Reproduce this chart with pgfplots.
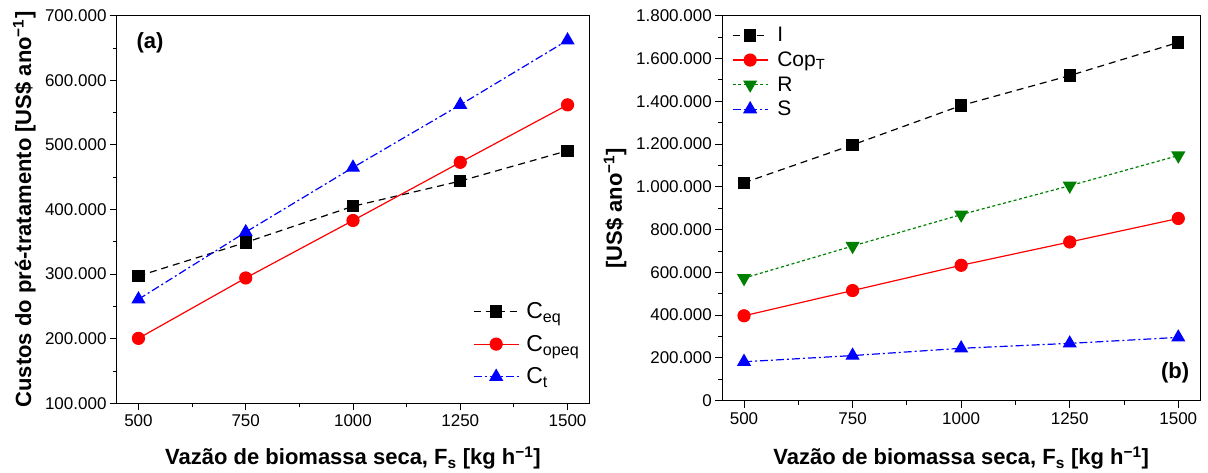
\documentclass[border=0pt]{standalone}
\usepackage{fontspec}
\setmainfont{Liberation Sans}
\usepackage{pgfplots}
\pgfplotsset{compat=1.18}
\definecolor{cgreen}{RGB}{0,128,0}
\definecolor{cred}{RGB}{255,0,0}
\definecolor{cblue}{RGB}{0,0,255}
\newcommand{\mnus}{{\char"2212}}
\pgfplotsset{
  common/.style={
    scale only axis,
    /pgf/number format/assume math mode=true,
    tick align=outside, tick pos=left,
    major tick length=7pt, minor tick length=4pt,
    every tick/.style={black, line width=0.9pt},
    axis line style={line width=1pt},
    xmin=450, xmax=1550,
    xtick={500,750,1000,1250,1500},
    minor x tick num=1, minor y tick num=1,
    scaled y ticks=false,
    xticklabel style={font=\fontsize{17}{20}\selectfont, /pgf/number format/1000 sep={}, yshift=-1pt},
    yticklabel style={font=\fontsize{17}{20}\selectfont, /pgf/number format/.cd, fixed, precision=0, 1000 sep={.}},
    label style={font=\fontsize{22}{26}\selectfont\bfseries},
    legend cell align=left,
  },
}
\begin{document}
\begin{tikzpicture}
\path[use as bounding box] (0pt,0pt) rectangle (1208pt,473pt);
% ---------------- (a)
\begin{axis}[common,
  at={(117pt,69.7pt)}, anchor=south west,
  width=472pt, height=387.6pt,
  ymin=100000, ymax=700000,
  ytick={100000,200000,300000,400000,500000,600000,700000},
  xlabel={Vazão de biomassa seca, F\textsubscript{s} [kg h\textsuperscript{\mnus1}]},
  ylabel={Custos do pré-tratamento [US\$ ano\textsuperscript{\mnus1}]},
  xlabel style={at={(axis description cs:0.5,-0.159)}, anchor=base},
  ylabel style={at={(axis description cs:-0.182,0.5)}, anchor=base},
  legend style={at={(axis description cs:0.754,0.265)}, anchor=north west, draw=none, fill=none,
    font=\fontsize{23}{25}\selectfont, row sep=11pt, inner sep=0pt,
    nodes={inner xsep=7pt}},
  legend image code/.code={\draw[mark repeat=2,mark phase=2,#1] plot coordinates {(0pt,0pt) (22.5pt,0pt) (45pt,0pt)};},
]
\addplot[black, line width=1.2pt, dash pattern=on 7pt off 5pt, mark=square*, mark size=5.5pt, mark options={solid}]
  coordinates {(500,297000) (750,349000) (1000,405000) (1250,444000) (1500,491000)};
\addlegendentry{C\textsubscript{eq}}
\addplot[cred, line width=1.2pt, mark=*, mark size=6pt, mark options={solid}]
  coordinates {(500,200500) (750,294000) (1000,383000) (1250,473000) (1500,562000)};
\addlegendentry{C\textsubscript{opeq}}
\addplot[cblue, line width=1.2pt, dash pattern=on 8pt off 3pt on 2pt off 3pt, mark=triangle*, mark size=7pt, mark options={solid}]
  coordinates {(500,261000) (750,365000) (1000,465000) (1250,562000) (1500,662000)};
\addlegendentry{C\textsubscript{t}}
\node[font=\fontsize{22}{24}\selectfont\bfseries] at (axis description cs:0.07,0.93) {(a)};
\end{axis}
% ---------------- (b)
\begin{axis}[common,
  at={(722.3pt,72.3pt)}, anchor=south west,
  width=477.7pt, height=385pt,
  ymin=0, ymax=1800000,
  ytick={0,200000,400000,600000,800000,1000000,1200000,1400000,1600000,1800000},
  xlabel={Vazão de biomassa seca, F\textsubscript{s} [kg h\textsuperscript{\mnus1}]},
  ylabel={[US\$ ano\textsuperscript{\mnus1}]},
  xlabel style={at={(axis description cs:0.5,-0.167)}, anchor=base},
  ylabel style={at={(axis description cs:-0.21,0.5)}, anchor=base},
  legend style={at={(axis description cs:0.02,0.975)}, anchor=north west, draw=none, fill=none,
    font=\fontsize{21}{23}\selectfont, row sep=4.5pt, inner sep=0pt,
    nodes={inner xsep=9pt}},
  legend image code/.code={\draw[mark repeat=2,mark phase=2,#1] plot coordinates {(0pt,0pt) (17.5pt,0pt) (35pt,0pt)};},
]
\addplot[black, line width=1.2pt, dash pattern=on 7pt off 5pt, mark=square*, mark size=5.5pt, mark options={solid}]
  coordinates {(500,1019000) (750,1196000) (1000,1380000) (1250,1520000) (1500,1675000)};
\addlegendentry{I}
\addplot[cred, line width=1.2pt, mark=*, mark size=6pt, mark options={solid}]
  coordinates {(500,397000) (750,515000) (1000,633000) (1250,742000) (1500,852000)};
\addlegendentry{Cop\textsubscript{T}}
\addplot[cgreen, line width=1.2pt, dash pattern=on 3pt off 2.5pt, mark=triangle*, mark size=7pt, mark options={solid, rotate=180}]
  coordinates {(500,573000) (750,723000) (1000,870000) (1250,1005000) (1500,1146000)};
\addlegendentry{R}
\addplot[cblue, line width=1.2pt, dash pattern=on 8pt off 3pt on 2pt off 3pt, mark=triangle*, mark size=7pt, mark options={solid}]
  coordinates {(500,182000) (750,211000) (1000,245000) (1250,268000) (1500,296000)};
\addlegendentry{S}
\node[font=\fontsize{22}{24}\selectfont\bfseries] at (axis description cs:0.948,0.072) {(b)};
\end{axis}
\end{tikzpicture}
\end{document}
